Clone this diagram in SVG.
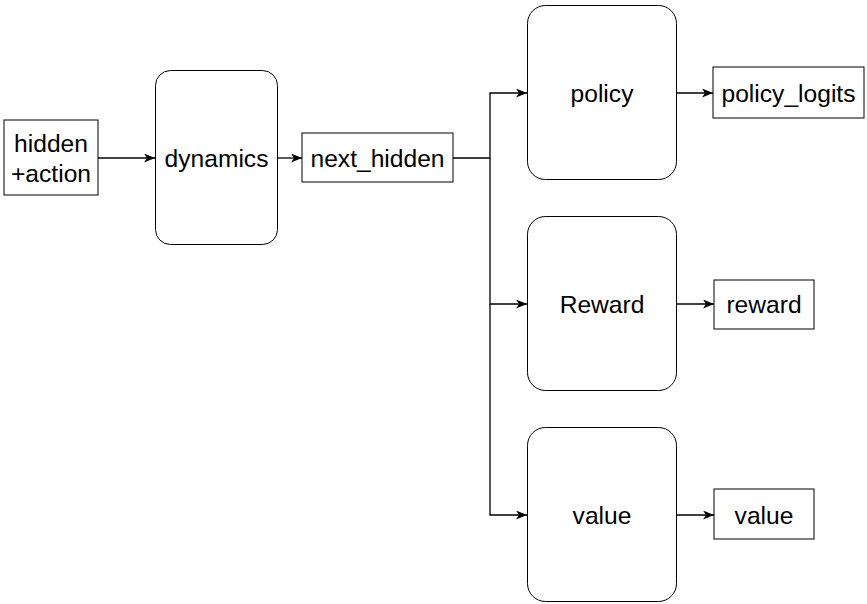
<svg xmlns="http://www.w3.org/2000/svg" width="867" height="604" viewBox="0 0 867 604">
<defs>
<style>
.r{fill:#fff;stroke:#000;stroke-width:1}
.t{font-family:"Liberation Sans",Arial,sans-serif;font-size:24.6px;fill:#000;text-anchor:middle}
.c{fill:none;stroke:#000;stroke-width:1.3}
</style>
<marker id="a" viewBox="0 0 11 9" refX="11" refY="4.5" markerWidth="11" markerHeight="9" markerUnits="userSpaceOnUse" orient="auto">
<path d="M0,0 L11,4.5 L0,9 L3,4.5 Z" fill="#000"/>
</marker>
</defs>
<rect width="867" height="604" fill="#fff"/>
<g id="connectors">
<path class="c" d="M98,158 H155" marker-end="url(#a)"/>
<path class="c" d="M278,158 H302" marker-end="url(#a)"/>
<path class="c" d="M453,158 H490 V93 H527" marker-end="url(#a)"/>
<path class="c" d="M490,158 V304 H527" marker-end="url(#a)"/>
<path class="c" d="M490,304 V515 H527" marker-end="url(#a)"/>
<path class="c" d="M677,93 H713" marker-end="url(#a)"/>
<path class="c" d="M677,304 H714" marker-end="url(#a)"/>
<path class="c" d="M677,515 H714" marker-end="url(#a)"/>
</g>
<g id="hidden_action">
<rect class="r" x="4" y="120" width="94" height="75"/>
<text class="t" x="51" y="152">hidden</text>
<text class="t" x="51" y="181.5">+action</text>
</g>
<g id="dynamics">
<rect class="r" x="155.5" y="70.5" width="122" height="174" rx="15"/>
<text class="t" x="216.5" y="166.5">dynamics</text>
</g>
<g id="next_hidden">
<rect class="r" x="302" y="133" width="151" height="49"/>
<text class="t" x="377.5" y="166.5">next_hidden</text>
</g>
<g id="policy">
<rect class="r" x="527.5" y="5.5" width="149" height="174" rx="18"/>
<text class="t" x="602" y="101.5">policy</text>
</g>
<g id="reward_net">
<rect class="r" x="527.5" y="216.5" width="149" height="174" rx="18"/>
<text class="t" x="602" y="312.5">Reward</text>
</g>
<g id="value_net">
<rect class="r" x="527.5" y="427.5" width="149" height="174" rx="18"/>
<text class="t" x="602" y="523.5">value</text>
</g>
<g id="policy_logits">
<rect class="r" x="713" y="67" width="151" height="51"/>
<text class="t" x="788.5" y="101.5">policy_logits</text>
</g>
<g id="reward">
<rect class="r" x="714" y="280" width="100" height="49"/>
<text class="t" x="764" y="312.5">reward</text>
</g>
<g id="value">
<rect class="r" x="714" y="489" width="100" height="50"/>
<text class="t" x="764" y="523.5">value</text>
</g>
</svg>
